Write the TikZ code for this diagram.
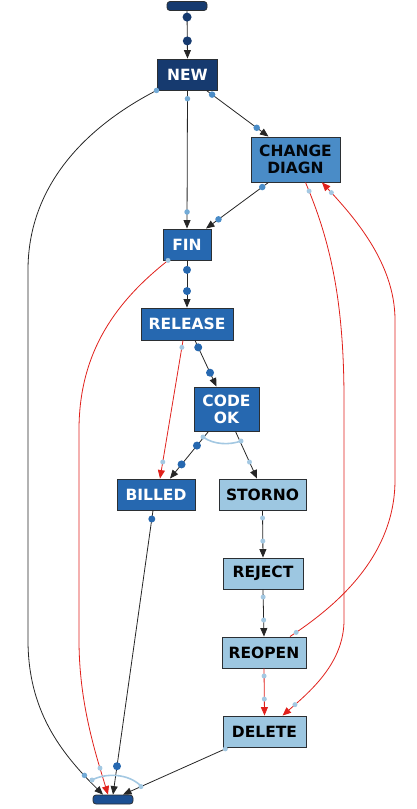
\documentclass[tikz,border=0pt]{standalone}
\usepackage{fontspec}
\setmainfont{DejaVu Sans}
\usetikzlibrary{arrows.meta, calc}
\definecolor{navy}{HTML}{163A6F}
\definecolor{navyend}{HTML}{1B4F93}
\definecolor{midblue}{HTML}{4A8CC7}
\definecolor{stateblue}{HTML}{2668B0}
\definecolor{paleblue}{HTML}{9DC7E1}
\definecolor{dotblue}{HTML}{72AAD6}
\definecolor{dotpale}{HTML}{A3C8E2}
\definecolor{redline}{HTML}{E0201B}
\definecolor{frame}{HTML}{2B2F33}

\tikzset{
  statebox/.style={draw=frame, line width=0.9pt, inner sep=0pt, align=center,
    font=\bfseries\fontsize{15.5}{17}\selectfont},
  termbox/.style={draw=frame, rounded corners=3pt, minimum width=40pt,
    minimum height=9pt, inner sep=0pt, line width=0.8pt},
  arrowline/.style={-{Triangle[length=8.5pt,width=7pt]}, line width=0.8pt, black!85},
  redflow/.style={arrowline, redline},
  knob/.style={circle, fill=#1, inner sep=0pt, minimum size=5pt},
  bigknob/.style={circle, fill=#1, inner sep=0pt, minimum size=8pt}
}

\begin{document}
\begin{tikzpicture}[x=1pt, y=-1pt]
  \useasboundingbox (0,0) rectangle (416,809);
  % Start and end
  \node[termbox, fill=navy] (begin) at (187,6) {};
  \node[termbox, fill=navyend] (finish) at (113,799.5) {};
  % States
  \node[statebox, fill=navy, text=white, minimum width=60pt, minimum height=31pt]
    (new) at (187.5,74.5) {NEW};
  \node[statebox, fill=midblue, text=black!90!navy, minimum width=89pt, minimum height=45pt]
    (change) at (295.5,159.5) {CHANGE\\DIAGN};
  \node[statebox, fill=stateblue, text=white, minimum width=48pt, minimum height=31pt]
    (fin) at (187,244.5) {FIN};
  \node[statebox, fill=stateblue, text=white, minimum width=92pt, minimum height=32pt]
    (release) at (187,324) {RELEASE};
  \node[statebox, fill=stateblue, text=white, minimum width=65pt, minimum height=44pt]
    (codeok) at (226.5,409) {CODE\\OK};
  \node[statebox, fill=stateblue, text=white, minimum width=78pt, minimum height=31pt]
    (billed) at (156,494.5) {BILLED};
  \node[statebox, fill=paleblue, text=black, minimum width=87pt, minimum height=31pt]
    (storno) at (262.5,494.5) {STORNO};
  \node[statebox, fill=paleblue, text=black, minimum width=80pt, minimum height=31pt]
    (reject) at (263,573.5) {REJECT};
  \node[statebox, fill=paleblue, text=black, minimum width=84pt, minimum height=31pt]
    (reopen) at (264,652.5) {REOPEN};
  \node[statebox, fill=paleblue, text=black, minimum width=83pt, minimum height=31pt]
    (delete) at (264.5,731.5) {DELETE};

  % Arrows
  \draw[arrowline] (begin.south) -- (new.north)
    node[bigknob=navy, minimum size=9pt, pos=.13] {} node[bigknob=navy, minimum size=9pt, pos=.63] {};
  \draw[arrowline] ([xshift=19pt]new.south) -- ([xshift=-27pt]change.north)
    node[knob=midblue, minimum size=6.5pt, pos=.09] {} node[knob=midblue, minimum size=6.5pt, pos=.81] {};
  \draw[arrowline] (new.south) -- (fin.north)
    node[knob=dotblue, minimum size=5.5pt, pos=.06] {} node[knob=dotblue, minimum size=5.5pt, pos=.88] {};
  \draw[arrowline] ([xshift=-31pt]new.south) node[knob=dotblue, minimum size=5.5pt] {}
    .. controls (80,130) and (28,190) .. (28,270) -- (28,640)
    .. controls (28,710) and (60,752) .. ([xshift=-10pt]finish.north)
    node[knob=dotblue, minimum size=5.5pt, pos=.85] {};
  \draw[arrowline] ([xshift=-27pt]change.south) -- ([xshift=19pt]fin.north)
    node[knob=midblue, minimum size=6.5pt, pos=.1] {} node[knob=midblue, minimum size=6.5pt, pos=.8] {};
  \draw[redflow] ([xshift=10pt]change.south)
    .. controls (330,240) and (344,300) .. (344,400) node[knob=dotpale, pos=.05] {}
    -- (344,620)
    .. controls (344,662) and (312,690) .. ([xshift=18pt]delete.north)
    node[knob=dotpale, pos=.86] {};
  \draw[redflow] ([xshift=26pt]reopen.north)
    .. controls (330,610) and (395,560) .. (395,480) node[knob=dotpale, pos=.05] {}
    -- (395,320)
    .. controls (395,262) and (352,215) .. ([xshift=26.5pt]change.south)
    node[knob=dotpale, pos=.9] {};
  \draw[arrowline] (fin.south) -- (release.north)
    node[bigknob=stateblue, pos=.2] {} node[bigknob=stateblue, pos=.65] {};
  \draw[redflow] ([xshift=-19pt]fin.south) node[knob=dotpale] {}
    .. controls (118,300) and (79,350) .. (79,430) -- (79,640)
    .. controls (79,702) and (95,752) .. ([xshift=-5pt]finish.north)
    node[knob=dotpale, pos=.8] {};
  \draw[redflow] ([xshift=-4pt]release.south) -- ([xshift=4pt]billed.north)
    node[knob=dotpale, pos=.05] {} node[knob=dotpale, pos=.88] {};
  \draw[arrowline] ([xshift=8pt]release.south) -- ([xshift=-10pt]codeok.north)
    node[bigknob=stateblue, pos=.15] {} node[bigknob=stateblue, pos=.7] {};
  \draw[arrowline] ([xshift=-18pt]codeok.south) -- ([xshift=14pt]billed.north)
    node[bigknob=stateblue, pos=.3] {} node[bigknob=stateblue, pos=.7] {};
  \draw[arrowline] ([xshift=9pt]codeok.south) -- ([xshift=-5.5pt]storno.north)
    node[knob=dotpale, pos=.65] {};
  \draw[arrowline] ([xshift=-3pt]billed.south) -- (finish.north)
    node[knob=stateblue, minimum size=7pt, pos=.03] {} node[bigknob=stateblue, pos=.9] {};
  \foreach \a/\b in {storno/reject, reject/reopen}
    \draw[arrowline] (\a.south) -- (\b.north)
      node[knob=dotpale, pos=.16] {} node[knob=dotpale, pos=.65] {};
  \draw[redflow] (reopen.south) -- (delete.north)
    node[knob=dotpale, pos=.16] {} node[knob=dotpale, pos=.65] {};
  \draw[arrowline] ([xshift=-36pt]delete.south) -- ([xshift=10pt]finish.north)
    node[knob=dotpale, pos=.03] {} node[knob=dotpale, pos=.83] {};

  % Join arcs
  \coordinate (okleft) at (203,437);
  \coordinate (okright) at (241,441);
  \draw[dotpale, line width=1.6pt] (okleft) .. controls (214,445) and (230,445) .. (okright);
  \node[knob=dotpale] at (okleft) {};
  \node[knob=dotpale] at (okright) {};
  \coordinate (endleft) at (92,780);
  \coordinate (endright) at (141,786);
  \draw[dotpale, line width=1.6pt] (endleft) .. controls (105,773) and (128,773) .. (endright);
  \node[knob=dotpale] at (endleft) {};
\end{tikzpicture}
\end{document}
